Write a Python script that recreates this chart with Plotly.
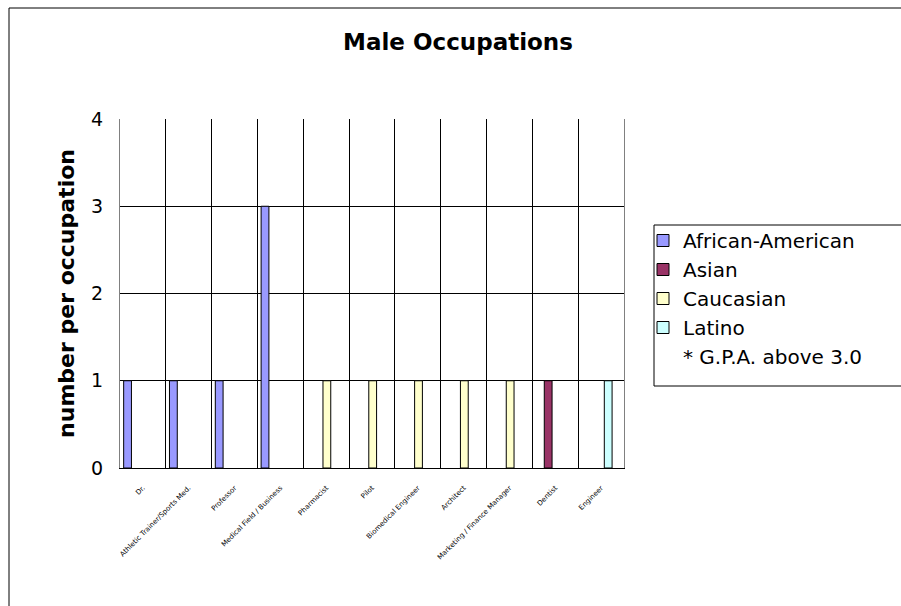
import plotly.graph_objects as go

occupations = ["Dr.", "Athletic Trainer/Sports Med.", "Professor", "Medical Field / Business",
               "Pharmacist", "Pilot", "Biomedical Engineer", "Architect",
               "Marketing / Finance Manager", "Dentist", "Engineer"]
african_american = [1, 1, 1, 3, None, None, None, None, None, None, None]
asian = [None, None, None, None, None, None, None, None, None, 1, None]
caucasian = [None, None, None, None, 1, 1, 1, 1, 1, None, None]
latino = [None, None, None, None, None, None, None, None, None, None, 1]
empty = [None] * 11

series = [
    ("African-American", african_american, "#9999FF", -0.42),
    ("Asian", asian, "#993366", -0.24),
    ("Caucasian", caucasian, "#FFFFCC", -0.07),
    ("Latino", latino, "#CCFFFF", 0.07),
]

idx = list(range(len(occupations)))
FONT = "DejaVu Sans, Verdana, sans-serif"

# plot area in pixels: x 120..624, y 119..468
L, T, W, H = 120, 119, 504, 349


def px(x):
    return (x - L) / W


def py(y):
    return (T + H - y) / H


fig = go.Figure()
for name, vals, color, off in series:
    fig.add_trace(go.Bar(
        x=idx, y=vals, name=name, offset=off, width=0.17,
        marker=dict(color=color, line=dict(color="black", width=1)),
    ))
fig.add_trace(go.Bar(
    x=idx, y=empty, name="* G.P.A. above 3.0",
    marker=dict(color="rgba(0,0,0,0)", line=dict(width=0)),
))

fig.update_layout(
    width=901, height=606,
    margin=dict(l=L, r=901 - L - W, t=T, b=606 - T - H),
    paper_bgcolor="white", plot_bgcolor="white",
    barmode="overlay",
    font=dict(family=FONT, color="black"),
    title=dict(text="<b>Male Occupations</b>", x=458 / 901, xref="container", xanchor="center",
               y=1 - 42 / 606, yref="container", yanchor="middle",
               font=dict(size=23, family=FONT, color="black")),
    showlegend=True,
    legend=dict(x=px(643), xanchor="left", y=py(221), yanchor="top",
                bgcolor="rgba(0,0,0,0)", borderwidth=0,
                font=dict(size=20, family=FONT, color="black"),
                traceorder="normal"),
    xaxis=dict(range=[-0.5, 10.5], tickmode="array", tickvals=idx, ticktext=occupations,
               tickangle=-45, tickfont=dict(size=7, family=FONT, color="black"),
               showgrid=False, showline=True, linecolor="black", linewidth=1,
               ticks="", ticklabelstandoff=12,
               minor=dict(tickmode="array", tickvals=[i + 0.5 for i in range(11)],
                          showgrid=True, gridcolor="black", gridwidth=1, ticks="")),
    yaxis=dict(range=[0, 4], tickmode="linear", dtick=1, tick0=0,
               showgrid=True, gridcolor="black", gridwidth=1,
               showline=True, linecolor="#808080", linewidth=1, mirror=True,
               zeroline=False, ticks="", ticklabelstandoff=12,
               tickfont=dict(size=19, family=FONT, color="black"),
               title=dict(text="<b>number per occupation</b>", standoff=10,
                          font=dict(size=22, family=FONT, color="black"))),
    shapes=[
        dict(type="rect", xref="paper", yref="paper",
             x0=px(9), x1=px(910), y0=py(620), y1=py(8),
             line=dict(color="black", width=1), fillcolor="rgba(0,0,0,0)", layer="below"),
        dict(type="rect", xref="paper", yref="paper",
             x0=px(654), x1=px(910), y0=py(386), y1=py(225),
             line=dict(color="black", width=1), fillcolor="rgba(0,0,0,0)", layer="above"),
    ],
)

fig.write_html("out.html", config={"displayModeBar": False},
               post_script="document.body.style.margin='0';document.body.style.overflow='hidden';")
